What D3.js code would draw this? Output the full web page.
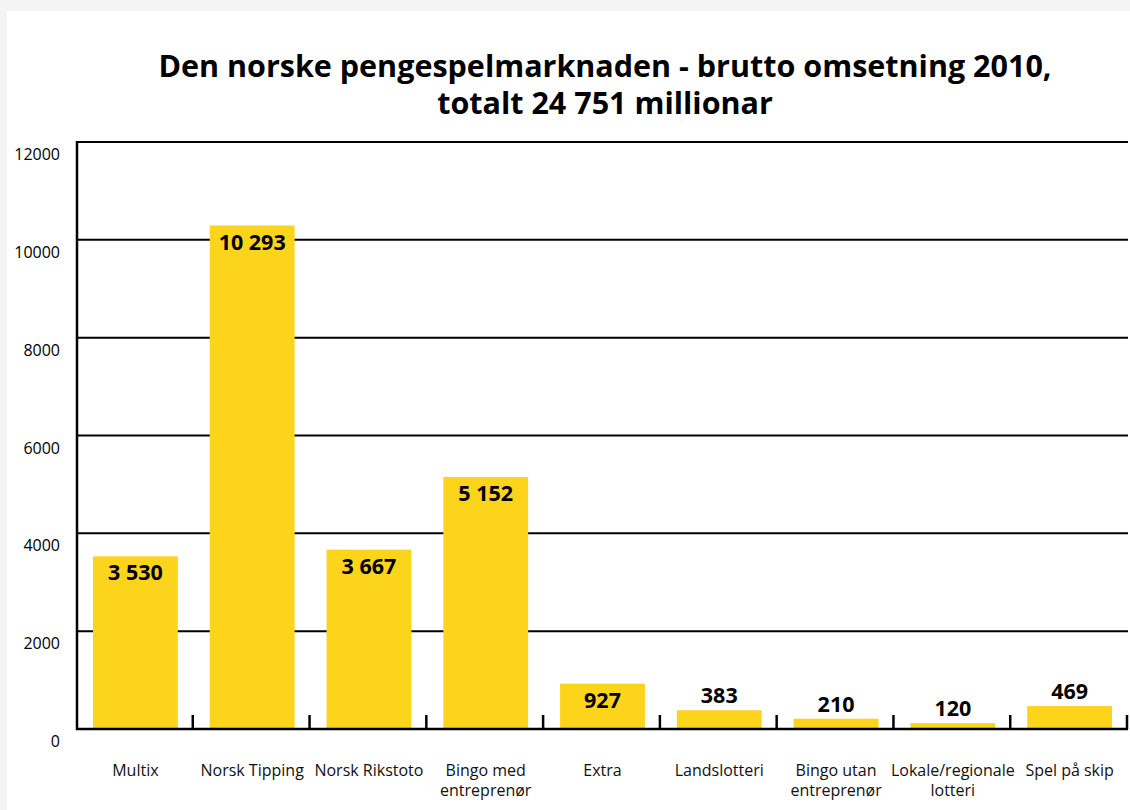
<!DOCTYPE html>
<html lang="nb">
  <head>
    <meta charset="utf-8">
    <title>Pengespelmarknaden 2010</title>
    <script src="https://d3js.org/d3.v7.min.js"></script>
    <style>
      html, body { margin: 0; padding: 0; background: #f4f4f4; }
      #chart { position: absolute; left: 7px; top: 11px; }
    </style>
  </head>
  <body>
    <div id="chart"></div>
    <script>
      var categories = ["Multix", "Norsk Tipping", "Norsk Rikstoto", "Bingo med|entreprenør", "Extra",
                        "Landslotteri", "Bingo utan|entreprenør", "Lokale/regionale|lotteri", "Spel på skip"];
      var values = [3530, 10293, 3667, 5152, 927, 383, 210, 120, 469];
      var valueLabels = ["3 530", "10 293", "3 667", "5 152", "927", "383", "210", "120", "469"];
      var yTicks = [0, 2000, 4000, 6000, 8000, 10000, 12000];
      var titleLines = ["Den norske pengespelmarknaden - brutto omsetning 2010,", "totalt 24 751 millionar"];

      var ox = 7, oy = 11;
      var width = 1130 - ox, height = 810 - oy;
      var margin = {top: 142 - oy, left: 77 - ox, right: 2, bottom: 810 - 729};

      var svg = d3.select("#chart").append("svg")
          .attr("width", width)
          .attr("height", height)
          .style("background", "#fff")
          .style("font-family", "'Open Sans', sans-serif");

      // title
      svg.append("text")
          .attr("text-anchor", "middle")
          .attr("font-weight", "bold")
          .attr("font-size", "30.5px")
          .attr("fill", "#000")
          .selectAll("tspan")
          .data(titleLines)
          .enter().append("tspan")
          .attr("x", 605 - ox)
          .attr("y", function(d, i) { return 77 - oy + i * 37; })
          .text(function(d) { return d; });

      var x = d3.scaleBand().domain(categories)
          .range([margin.left, width - margin.right])
          .paddingInner(32 / 117).paddingOuter(16 / 117);
      var y = d3.scaleLinear().domain([0, 12000]).range([729 - oy, margin.top]);

      var step = (width - margin.right - margin.left) / categories.length;

      // gridlines
      svg.append("g").selectAll("line")
          .data(yTicks.slice(1))
          .enter().append("line")
          .attr("x1", margin.left).attr("x2", width - margin.right)
          .attr("y1", function(d) { return y(d); })
          .attr("y2", function(d) { return y(d); })
          .attr("stroke", "#000").attr("stroke-width", 2);

      // y tick labels
      svg.append("g").selectAll("text")
          .data(yTicks)
          .enter().append("text")
          .attr("x", 60 - ox)
          .attr("y", function(d) { return y(d) + 18; })
          .attr("text-anchor", "end")
          .attr("font-size", "16px")
          .text(function(d) { return d; });

      // bars
      svg.append("g").selectAll("rect")
          .data(values)
          .enter().append("rect")
          .attr("x", function(d, i) { return x(categories[i]); })
          .attr("width", x.bandwidth())
          .attr("y", function(d) { return y(d); })
          .attr("height", function(d) { return y(0) - y(d); })
          .attr("fill", "#fcd41c");

      // axes lines
      svg.append("line")
          .attr("x1", margin.left).attr("x2", margin.left)
          .attr("y1", y(12000) - 1).attr("y2", y(0) + 1)
          .attr("stroke", "#000").attr("stroke-width", 2.5);
      svg.append("line")
          .attr("x1", margin.left - 1).attr("x2", width - margin.right)
          .attr("y1", y(0)).attr("y2", y(0))
          .attr("stroke", "#000").attr("stroke-width", 2.5);

      // category separators
      svg.append("g").selectAll("line")
          .data(d3.range(1, categories.length + 1))
          .enter().append("line")
          .attr("x1", function(d) { return margin.left + d * step - 1; })
          .attr("x2", function(d) { return margin.left + d * step - 1; })
          .attr("y1", y(0) - 14).attr("y2", y(0))
          .attr("stroke", "#000").attr("stroke-width", 2.5);

      // value labels
      svg.append("g").selectAll("text")
          .data(values)
          .enter().append("text")
          .attr("x", function(d, i) { return x(categories[i]) + x.bandwidth() / 2; })
          .attr("y", function(d) { return d > 900 ? y(d) + 24 : y(d) - 7; })
          .attr("text-anchor", "middle")
          .attr("font-weight", "bold")
          .attr("font-size", "21.5px")
          .text(function(d, i) { return valueLabels[i]; });

      // category labels
      var cat = svg.append("g").selectAll("text")
          .data(categories)
          .enter().append("text")
          .attr("text-anchor", "middle")
          .attr("font-size", "16px")
          .attr("fill", "#111");
      cat.selectAll("tspan")
          .data(function(d, i) { return d.split("|").map(function(s) { return {s: s, c: d}; }); })
          .enter().append("tspan")
          .attr("x", function(d) { return x(d.c) + x.bandwidth() / 2; })
          .attr("y", function(d, j) { return 776 - oy + j * 20; })
          .text(function(d) { return d.s; });
    </script>
  </body>
</html>
